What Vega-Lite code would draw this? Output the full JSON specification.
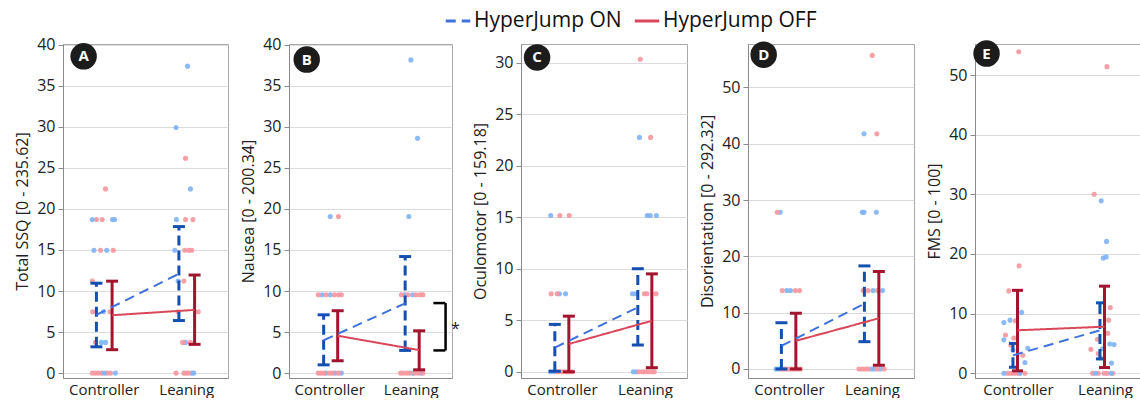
{
"$schema":"https://vega.github.io/schema/vega-lite/v6.json",
"background":"white",
"padding":{"left":14,"top":7,"right":0,"bottom":0},
"spacing":11,
"resolve":{"scale":{"y":"independent"}},
"datasets":{
"pts":[
{"p":"A","c":"Controller","g":"OFF","v":22.44,"j":0.03},{"p":"A","c":"Controller","g":"OFF","v":18.7,"j":-0.19},{"p":"A","c":"Controller","g":"OFF","v":18.7,"j":-0.05},{"p":"A","c":"Controller","g":"OFF","v":14.96,"j":-0.09},{"p":"A","c":"Controller","g":"OFF","v":14.96,"j":0.22},{"p":"A","c":"Controller","g":"OFF","v":11.22,"j":-0.29},{"p":"A","c":"Controller","g":"OFF","v":7.48,"j":-0.28},{"p":"A","c":"Controller","g":"OFF","v":7.48,"j":0.14},{"p":"A","c":"Controller","g":"OFF","v":3.74,"j":-0.21},{"p":"A","c":"Controller","g":"OFF","v":0,"j":-0.29},{"p":"A","c":"Controller","g":"OFF","v":0,"j":-0.22},{"p":"A","c":"Controller","g":"OFF","v":0,"j":-0.15},{"p":"A","c":"Controller","g":"OFF","v":0,"j":-0.07},{"p":"A","c":"Controller","g":"OFF","v":0,"j":0.07},{"p":"A","c":"Controller","g":"OFF","v":0,"j":0.15},
{"p":"A","c":"Controller","g":"ON","v":18.7,"j":-0.29},{"p":"A","c":"Controller","g":"ON","v":18.7,"j":0.2},{"p":"A","c":"Controller","g":"ON","v":18.7,"j":0.25},{"p":"A","c":"Controller","g":"ON","v":14.96,"j":-0.25},{"p":"A","c":"Controller","g":"ON","v":14.96,"j":0.06},{"p":"A","c":"Controller","g":"ON","v":7.48,"j":-0.02},{"p":"A","c":"Controller","g":"ON","v":3.74,"j":-0.07},{"p":"A","c":"Controller","g":"ON","v":3.74,"j":0.03},{"p":"A","c":"Controller","g":"ON","v":0,"j":0},{"p":"A","c":"Controller","g":"ON","v":0,"j":0.27},
{"p":"A","c":"Leaning","g":"ON","v":37.4,"j":0.02},{"p":"A","c":"Leaning","g":"ON","v":29.92,"j":-0.26},{"p":"A","c":"Leaning","g":"ON","v":22.44,"j":0.09},{"p":"A","c":"Leaning","g":"ON","v":18.7,"j":-0.25},{"p":"A","c":"Leaning","g":"ON","v":14.96,"j":-0.29},{"p":"A","c":"Leaning","g":"ON","v":11.22,"j":-0.21},{"p":"A","c":"Leaning","g":"ON","v":3.74,"j":-0.03},{"p":"A","c":"Leaning","g":"ON","v":0,"j":0.12},{"p":"A","c":"Leaning","g":"ON","v":0,"j":0.17},
{"p":"A","c":"Leaning","g":"OFF","v":26.18,"j":-0.03},{"p":"A","c":"Leaning","g":"OFF","v":18.7,"j":-0.03},{"p":"A","c":"Leaning","g":"OFF","v":18.7,"j":0.15},{"p":"A","c":"Leaning","g":"OFF","v":14.96,"j":-0.05},{"p":"A","c":"Leaning","g":"OFF","v":14.96,"j":0.05},{"p":"A","c":"Leaning","g":"OFF","v":14.96,"j":0.12},{"p":"A","c":"Leaning","g":"OFF","v":11.22,"j":-0.07},{"p":"A","c":"Leaning","g":"OFF","v":7.48,"j":-0.21},{"p":"A","c":"Leaning","g":"OFF","v":7.48,"j":0.28},{"p":"A","c":"Leaning","g":"OFF","v":3.74,"j":-0.1},{"p":"A","c":"Leaning","g":"OFF","v":3.74,"j":0.09},{"p":"A","c":"Leaning","g":"OFF","v":0,"j":-0.26},{"p":"A","c":"Leaning","g":"OFF","v":0,"j":-0.07},{"p":"A","c":"Leaning","g":"OFF","v":0,"j":-0.02},{"p":"A","c":"Leaning","g":"OFF","v":0,"j":0.04},
{"p":"B","c":"Controller","g":"ON","v":19.08,"j":0},{"p":"B","c":"Controller","g":"ON","v":9.54,"j":-0.2},{"p":"B","c":"Controller","g":"ON","v":9.54,"j":0},{"p":"B","c":"Controller","g":"ON","v":0,"j":-0.1},{"p":"B","c":"Controller","g":"ON","v":0,"j":0.12},{"p":"B","c":"Controller","g":"ON","v":0,"j":0.27},
{"p":"B","c":"Controller","g":"OFF","v":19.08,"j":0.2},{"p":"B","c":"Controller","g":"OFF","v":9.54,"j":-0.29},{"p":"B","c":"Controller","g":"OFF","v":9.54,"j":-0.1},{"p":"B","c":"Controller","g":"OFF","v":9.54,"j":0.1},{"p":"B","c":"Controller","g":"OFF","v":9.54,"j":0.2},{"p":"B","c":"Controller","g":"OFF","v":9.54,"j":0.27},{"p":"B","c":"Controller","g":"OFF","v":0,"j":-0.29},{"p":"B","c":"Controller","g":"OFF","v":0,"j":-0.22},{"p":"B","c":"Controller","g":"OFF","v":0,"j":-0.15},{"p":"B","c":"Controller","g":"OFF","v":0,"j":-0.02},{"p":"B","c":"Controller","g":"OFF","v":0,"j":0.05},{"p":"B","c":"Controller","g":"OFF","v":0,"j":0.2},
{"p":"B","c":"Leaning","g":"ON","v":38.16,"j":-0.02},{"p":"B","c":"Leaning","g":"ON","v":28.62,"j":0.14},{"p":"B","c":"Leaning","g":"ON","v":19.08,"j":-0.07},{"p":"B","c":"Leaning","g":"ON","v":9.54,"j":-0.17},{"p":"B","c":"Leaning","g":"ON","v":9.54,"j":0.02},{"p":"B","c":"Leaning","g":"ON","v":0,"j":0.02},{"p":"B","c":"Leaning","g":"ON","v":0,"j":0.22},
{"p":"B","c":"Leaning","g":"OFF","v":9.54,"j":-0.25},{"p":"B","c":"Leaning","g":"OFF","v":9.54,"j":-0.09},{"p":"B","c":"Leaning","g":"OFF","v":9.54,"j":0.1},{"p":"B","c":"Leaning","g":"OFF","v":9.54,"j":0.2},{"p":"B","c":"Leaning","g":"OFF","v":9.54,"j":0.27},{"p":"B","c":"Leaning","g":"OFF","v":0,"j":-0.27},{"p":"B","c":"Leaning","g":"OFF","v":0,"j":-0.2},{"p":"B","c":"Leaning","g":"OFF","v":0,"j":-0.12},{"p":"B","c":"Leaning","g":"OFF","v":0,"j":-0.05},{"p":"B","c":"Leaning","g":"OFF","v":0,"j":0.07},{"p":"B","c":"Leaning","g":"OFF","v":0,"j":0.15},{"p":"B","c":"Leaning","g":"OFF","v":0,"j":0.27},
{"p":"C","c":"Controller","g":"ON","v":15.16,"j":-0.28},{"p":"C","c":"Controller","g":"ON","v":7.58,"j":-0.07},{"p":"C","c":"Controller","g":"ON","v":7.58,"j":0.08},{"p":"C","c":"Controller","g":"ON","v":0,"j":-0.29},{"p":"C","c":"Controller","g":"ON","v":0,"j":-0.2},
{"p":"C","c":"Controller","g":"OFF","v":15.16,"j":-0.06},{"p":"C","c":"Controller","g":"OFF","v":15.16,"j":0.17},{"p":"C","c":"Controller","g":"OFF","v":7.58,"j":-0.27},{"p":"C","c":"Controller","g":"OFF","v":7.58,"j":-0.12},{"p":"C","c":"Controller","g":"OFF","v":0,"j":-0.12},{"p":"C","c":"Controller","g":"OFF","v":0,"j":-0.05},{"p":"C","c":"Controller","g":"OFF","v":0,"j":0.02},{"p":"C","c":"Controller","g":"OFF","v":0,"j":0.1},{"p":"C","c":"Controller","g":"OFF","v":0,"j":0.17},{"p":"C","c":"Controller","g":"OFF","v":0,"j":0.24},
{"p":"C","c":"Leaning","g":"ON","v":22.74,"j":-0.14},{"p":"C","c":"Leaning","g":"ON","v":15.16,"j":0.05},{"p":"C","c":"Leaning","g":"ON","v":15.16,"j":0.12},{"p":"C","c":"Leaning","g":"ON","v":15.16,"j":0.27},{"p":"C","c":"Leaning","g":"ON","v":7.58,"j":-0.31},{"p":"C","c":"Leaning","g":"ON","v":7.58,"j":-0.23},{"p":"C","c":"Leaning","g":"ON","v":0,"j":-0.29},{"p":"C","c":"Leaning","g":"ON","v":0,"j":-0.22},
{"p":"C","c":"Leaning","g":"OFF","v":30.32,"j":-0.12},{"p":"C","c":"Leaning","g":"OFF","v":22.74,"j":0.13},{"p":"C","c":"Leaning","g":"OFF","v":7.58,"j":-0.02},{"p":"C","c":"Leaning","g":"OFF","v":7.58,"j":0.04},{"p":"C","c":"Leaning","g":"OFF","v":7.58,"j":0.26},{"p":"C","c":"Leaning","g":"OFF","v":0,"j":-0.15},{"p":"C","c":"Leaning","g":"OFF","v":0,"j":-0.07},{"p":"C","c":"Leaning","g":"OFF","v":0,"j":0},{"p":"C","c":"Leaning","g":"OFF","v":0,"j":0.07},{"p":"C","c":"Leaning","g":"OFF","v":0,"j":0.15},{"p":"C","c":"Leaning","g":"OFF","v":0,"j":0.22},
{"p":"D","c":"Controller","g":"ON","v":27.84,"j":-0.22},{"p":"D","c":"Controller","g":"ON","v":13.92,"j":-0.06},{"p":"D","c":"Controller","g":"ON","v":13.92,"j":0.03},{"p":"D","c":"Controller","g":"ON","v":0,"j":-0.32},{"p":"D","c":"Controller","g":"ON","v":0,"j":-0.24},
{"p":"D","c":"Controller","g":"OFF","v":27.84,"j":-0.29},{"p":"D","c":"Controller","g":"OFF","v":13.92,"j":-0.17},{"p":"D","c":"Controller","g":"OFF","v":13.92,"j":0.15},{"p":"D","c":"Controller","g":"OFF","v":13.92,"j":0.25},{"p":"D","c":"Controller","g":"OFF","v":0,"j":-0.17},{"p":"D","c":"Controller","g":"OFF","v":0,"j":-0.1},{"p":"D","c":"Controller","g":"OFF","v":0,"j":-0.02},{"p":"D","c":"Controller","g":"OFF","v":0,"j":0.05},{"p":"D","c":"Controller","g":"OFF","v":0,"j":0.12},{"p":"D","c":"Controller","g":"OFF","v":0,"j":0.2},{"p":"D","c":"Controller","g":"OFF","v":0,"j":0.27},
{"p":"D","c":"Leaning","g":"ON","v":41.76,"j":-0.2},{"p":"D","c":"Leaning","g":"ON","v":27.84,"j":-0.24},{"p":"D","c":"Leaning","g":"ON","v":27.84,"j":-0.2},{"p":"D","c":"Leaning","g":"ON","v":27.84,"j":0.1},{"p":"D","c":"Leaning","g":"ON","v":13.92,"j":0.02},{"p":"D","c":"Leaning","g":"ON","v":13.92,"j":0.25},{"p":"D","c":"Leaning","g":"ON","v":0,"j":-0.02},{"p":"D","c":"Leaning","g":"ON","v":0,"j":0.05},{"p":"D","c":"Leaning","g":"ON","v":0,"j":0.2},
{"p":"D","c":"Leaning","g":"OFF","v":55.68,"j":0},{"p":"D","c":"Leaning","g":"OFF","v":41.76,"j":0.11},{"p":"D","c":"Leaning","g":"OFF","v":13.92,"j":-0.22},{"p":"D","c":"Leaning","g":"OFF","v":13.92,"j":-0.1},{"p":"D","c":"Leaning","g":"OFF","v":13.92,"j":0.13},{"p":"D","c":"Leaning","g":"OFF","v":0,"j":-0.32},{"p":"D","c":"Leaning","g":"OFF","v":0,"j":-0.24},{"p":"D","c":"Leaning","g":"OFF","v":0,"j":-0.17},{"p":"D","c":"Leaning","g":"OFF","v":0,"j":-0.1},{"p":"D","c":"Leaning","g":"OFF","v":0,"j":0.12},{"p":"D","c":"Leaning","g":"OFF","v":0,"j":0.29},
{"p":"E","c":"Controller","g":"OFF","v":53.9,"j":0.06},{"p":"E","c":"Controller","g":"OFF","v":18.0,"j":0.07},{"p":"E","c":"Controller","g":"OFF","v":13.8,"j":-0.18},{"p":"E","c":"Controller","g":"OFF","v":8.8,"j":-0.02},{"p":"E","c":"Controller","g":"OFF","v":6.4,"j":-0.26},{"p":"E","c":"Controller","g":"OFF","v":5.9,"j":-0.06},{"p":"E","c":"Controller","g":"OFF","v":4.7,"j":-0.13},{"p":"E","c":"Controller","g":"OFF","v":3.0,"j":0.16},{"p":"E","c":"Controller","g":"OFF","v":0,"j":-0.21},{"p":"E","c":"Controller","g":"OFF","v":0,"j":-0.14},{"p":"E","c":"Controller","g":"OFF","v":0,"j":-0.07},{"p":"E","c":"Controller","g":"OFF","v":0,"j":0},{"p":"E","c":"Controller","g":"OFF","v":0,"j":0.07},{"p":"E","c":"Controller","g":"OFF","v":0,"j":0.21},
{"p":"E","c":"Controller","g":"ON","v":10.2,"j":0.13},{"p":"E","c":"Controller","g":"ON","v":8.9,"j":-0.15},{"p":"E","c":"Controller","g":"ON","v":8.5,"j":-0.3},{"p":"E","c":"Controller","g":"ON","v":5.6,"j":-0.3},{"p":"E","c":"Controller","g":"ON","v":3.9,"j":-0.08},{"p":"E","c":"Controller","g":"ON","v":4.2,"j":0.28},{"p":"E","c":"Controller","g":"ON","v":1.8,"j":0.21},{"p":"E","c":"Controller","g":"ON","v":0,"j":-0.3},{"p":"E","c":"Controller","g":"ON","v":0,"j":0.09},
{"p":"E","c":"Leaning","g":"OFF","v":51.4,"j":0.09},{"p":"E","c":"Leaning","g":"OFF","v":30.0,"j":-0.22},{"p":"E","c":"Leaning","g":"OFF","v":11.0,"j":0.17},{"p":"E","c":"Leaning","g":"OFF","v":8.9,"j":0.13},{"p":"E","c":"Leaning","g":"OFF","v":6.7,"j":0.11},{"p":"E","c":"Leaning","g":"OFF","v":5.7,"j":-0.14},{"p":"E","c":"Leaning","g":"OFF","v":4.0,"j":-0.3},{"p":"E","c":"Leaning","g":"OFF","v":3.3,"j":-0.12},{"p":"E","c":"Leaning","g":"OFF","v":2.6,"j":-0.07},{"p":"E","c":"Leaning","g":"OFF","v":0,"j":-0.26},{"p":"E","c":"Leaning","g":"OFF","v":0,"j":-0.12},{"p":"E","c":"Leaning","g":"OFF","v":0,"j":0.02},{"p":"E","c":"Leaning","g":"OFF","v":0,"j":0.09},{"p":"E","c":"Leaning","g":"OFF","v":0,"j":0.23},
{"p":"E","c":"Leaning","g":"ON","v":28.9,"j":-0.05},{"p":"E","c":"Leaning","g":"ON","v":22.1,"j":0.08},{"p":"E","c":"Leaning","g":"ON","v":19.3,"j":0},{"p":"E","c":"Leaning","g":"ON","v":19.5,"j":0.07},{"p":"E","c":"Leaning","g":"ON","v":4.9,"j":0.16},{"p":"E","c":"Leaning","g":"ON","v":4.8,"j":0.26},{"p":"E","c":"Leaning","g":"ON","v":4.1,"j":-0.02},{"p":"E","c":"Leaning","g":"ON","v":1.7,"j":0.2},{"p":"E","c":"Leaning","g":"ON","v":0,"j":-0.19},{"p":"E","c":"Leaning","g":"ON","v":0,"j":0.19}
],
"sum":[
{"p":"A","c":"Controller","g":"HyperJump ON","m":7.1,"lo":3.2,"hi":10.95},{"p":"A","c":"Controller","g":"HyperJump OFF","m":7.05,"lo":2.85,"hi":11.2},{"p":"A","c":"Leaning","g":"HyperJump ON","m":12.1,"lo":6.4,"hi":17.85},{"p":"A","c":"Leaning","g":"HyperJump OFF","m":7.7,"lo":3.5,"hi":11.95},
{"p":"B","c":"Controller","g":"HyperJump ON","m":4.0,"lo":1.0,"hi":7.1},{"p":"B","c":"Controller","g":"HyperJump OFF","m":4.55,"lo":1.5,"hi":7.6},{"p":"B","c":"Leaning","g":"HyperJump ON","m":8.5,"lo":2.76,"hi":14.2},{"p":"B","c":"Leaning","g":"HyperJump OFF","m":2.8,"lo":0.4,"hi":5.15},
{"p":"C","c":"Controller","g":"HyperJump ON","m":2.35,"lo":0.05,"hi":4.6},{"p":"C","c":"Controller","g":"HyperJump OFF","m":2.7,"lo":0,"hi":5.4},{"p":"C","c":"Leaning","g":"HyperJump ON","m":6.25,"lo":2.6,"hi":10.0},{"p":"C","c":"Leaning","g":"HyperJump OFF","m":4.95,"lo":0.4,"hi":9.5},
{"p":"D","c":"Controller","g":"HyperJump ON","m":4.1,"lo":0,"hi":8.2},{"p":"D","c":"Controller","g":"HyperJump OFF","m":5.0,"lo":0,"hi":9.9},{"p":"D","c":"Leaning","g":"HyperJump ON","m":11.6,"lo":4.85,"hi":18.3},{"p":"D","c":"Leaning","g":"HyperJump OFF","m":9.0,"lo":0.65,"hi":17.3},
{"p":"E","c":"Controller","g":"HyperJump ON","m":3.0,"lo":1.0,"hi":5.0},{"p":"E","c":"Controller","g":"HyperJump OFF","m":7.2,"lo":0.4,"hi":13.9},{"p":"E","c":"Leaning","g":"HyperJump ON","m":7.2,"lo":2.4,"hi":11.8},{"p":"E","c":"Leaning","g":"HyperJump OFF","m":7.8,"lo":0.95,"hi":14.6}
]
},
"hconcat":[
{"width":165,"height":334,"layer":[
{"data":{"name":"pts"},"transform":[{"filter":"datum.p=='A'"}],"mark":{"type":"circle","size":26,"opacity":0.9},"encoding":{"x":{"field":"c","type":"nominal","scale":{"type":"band","domain":["Controller","Leaning"],"paddingInner":0,"paddingOuter":0},"axis":{"title":null}},"xOffset":{"field":"j","type":"quantitative","scale":{"domain":[-1,1]}},"y":{"field":"v","type":"quantitative","scale":{"domain":[-0.6,40.1],"nice":false,"zero":false},"axis":{"title":"Total SSQ [0 - 235.62]","values":[0,5,10,15,20,25,30,35,40]}},"fill":{"condition":{"test":"datum.g=='ON'","value":"#80b3f6"},"value":"#f6969f"}}},
{"data":{"name":"sum"},"transform":[{"filter":"datum.p=='A' && datum.g=='HyperJump ON'"}],"mark":{"type":"rule","color":"#1550b0","strokeWidth":3,"strokeDash":[10,5]},"encoding":{"x":{"field":"c","type":"nominal"},"xOffset":{"datum":-0.19,"type":"quantitative","scale":{"domain":[-1,1]}},"y":{"field":"lo","type":"quantitative","scale":{"domain":[-0.6,40.1],"nice":false,"zero":false}},"y2":{"field":"hi"}}},
{"data":{"name":"sum"},"transform":[{"filter":"datum.p=='A' && datum.g=='HyperJump ON'"},{"fold":["lo","hi"],"as":["k","yv"]}],"mark":{"type":"tick","color":"#1550b0","thickness":3,"size":12,"orient":"horizontal","opacity":1},"encoding":{"x":{"field":"c","type":"nominal"},"xOffset":{"datum":-0.19,"type":"quantitative","scale":{"domain":[-1,1]}},"y":{"field":"yv","type":"quantitative","scale":{"domain":[-0.6,40.1],"nice":false,"zero":false}}}},
{"data":{"name":"sum"},"transform":[{"filter":"datum.p=='A' && datum.g=='HyperJump OFF'"}],"mark":{"type":"rule","color":"#a3152f","strokeWidth":3},"encoding":{"x":{"field":"c","type":"nominal"},"xOffset":{"datum":0.19,"type":"quantitative","scale":{"domain":[-1,1]}},"y":{"field":"lo","type":"quantitative","scale":{"domain":[-0.6,40.1],"nice":false,"zero":false}},"y2":{"field":"hi"}}},
{"data":{"name":"sum"},"transform":[{"filter":"datum.p=='A' && datum.g=='HyperJump OFF'"},{"fold":["lo","hi"],"as":["k","yv"]}],"mark":{"type":"tick","color":"#a3152f","thickness":3,"size":12,"orient":"horizontal","opacity":1},"encoding":{"x":{"field":"c","type":"nominal"},"xOffset":{"datum":0.19,"type":"quantitative","scale":{"domain":[-1,1]}},"y":{"field":"yv","type":"quantitative","scale":{"domain":[-0.6,40.1],"nice":false,"zero":false}}}},
{"data":{"name":"sum"},"transform":[{"filter":"datum.p=='A' && datum.g=='HyperJump ON'"}],"mark":{"type":"line","strokeWidth":2},"encoding":{"x":{"field":"c","type":"nominal"},"xOffset":{"datum":-0.19,"type":"quantitative","scale":{"domain":[-1,1]}},"y":{"field":"m","type":"quantitative","scale":{"domain":[-0.6,40.1],"nice":false,"zero":false}},"stroke":{"field":"g","type":"nominal","title":null,"scale":{"domain":["HyperJump ON","HyperJump OFF"],"range":["#3f72dc","#d9475b"]}},"strokeDash":{"field":"g","type":"nominal","title":null,"scale":{"domain":["HyperJump ON","HyperJump OFF"],"range":[[10,6],[1,0]]}}}},
{"data":{"name":"sum"},"transform":[{"filter":"datum.p=='A' && datum.g=='HyperJump OFF'"}],"mark":{"type":"line","strokeWidth":2},"encoding":{"x":{"field":"c","type":"nominal"},"xOffset":{"datum":0.19,"type":"quantitative","scale":{"domain":[-1,1]}},"y":{"field":"m","type":"quantitative","scale":{"domain":[-0.6,40.1],"nice":false,"zero":false}},"stroke":{"field":"g","type":"nominal","title":null,"scale":{"domain":["HyperJump ON","HyperJump OFF"],"range":["#3f72dc","#d9475b"]}},"strokeDash":{"field":"g","type":"nominal","title":null,"scale":{"domain":["HyperJump ON","HyperJump OFF"],"range":[[10,6],[1,0]]}}}},
{"data":{"values":[{"t":"A"}]},"mark":{"type":"circle","size":700,"color":"#1c1c1c","opacity":1},"encoding":{"x":{"datum":"Controller","type":"nominal"},"xOffset":{"datum":-0.5,"type":"quantitative","scale":{"domain":[-1,1]}},"y":{"datum":38.6,"type":"quantitative","scale":{"domain":[-0.6,40.1],"nice":false,"zero":false}}}},
{"data":{"values":[{"t":"A"}]},"mark":{"type":"text","color":"white","fontWeight":"bold","fontSize":15,"baseline":"middle","align":"center"},"encoding":{"x":{"datum":"Controller","type":"nominal"},"xOffset":{"datum":-0.5,"type":"quantitative","scale":{"domain":[-1,1]}},"y":{"datum":38.6,"type":"quantitative","scale":{"domain":[-0.6,40.1],"nice":false,"zero":false}},"text":{"field":"t"}}}
]},
{"width":163,"height":334,"layer":[
{"data":{"name":"pts"},"transform":[{"filter":"datum.p=='B'"}],"mark":{"type":"circle","size":26,"opacity":0.9},"encoding":{"x":{"field":"c","type":"nominal","scale":{"type":"band","domain":["Controller","Leaning"],"paddingInner":0,"paddingOuter":0},"axis":{"title":null}},"xOffset":{"field":"j","type":"quantitative","scale":{"domain":[-1,1]}},"y":{"field":"v","type":"quantitative","scale":{"domain":[-0.6,40.1],"nice":false,"zero":false},"axis":{"title":"Nausea [0 - 200.34]","values":[0,5,10,15,20,25,30,35,40]}},"fill":{"condition":{"test":"datum.g=='ON'","value":"#80b3f6"},"value":"#f6969f"}}},
{"data":{"name":"sum"},"transform":[{"filter":"datum.p=='B' && datum.g=='HyperJump ON'"}],"mark":{"type":"rule","color":"#1550b0","strokeWidth":3,"strokeDash":[10,5]},"encoding":{"x":{"field":"c","type":"nominal"},"xOffset":{"datum":-0.16,"type":"quantitative","scale":{"domain":[-1,1]}},"y":{"field":"lo","type":"quantitative","scale":{"domain":[-0.6,40.1],"nice":false,"zero":false}},"y2":{"field":"hi"}}},
{"data":{"name":"sum"},"transform":[{"filter":"datum.p=='B' && datum.g=='HyperJump ON'"},{"fold":["lo","hi"],"as":["k","yv"]}],"mark":{"type":"tick","color":"#1550b0","thickness":3,"size":12,"orient":"horizontal","opacity":1},"encoding":{"x":{"field":"c","type":"nominal"},"xOffset":{"datum":-0.16,"type":"quantitative","scale":{"domain":[-1,1]}},"y":{"field":"yv","type":"quantitative","scale":{"domain":[-0.6,40.1],"nice":false,"zero":false}}}},
{"data":{"name":"sum"},"transform":[{"filter":"datum.p=='B' && datum.g=='HyperJump OFF'"}],"mark":{"type":"rule","color":"#a3152f","strokeWidth":3},"encoding":{"x":{"field":"c","type":"nominal"},"xOffset":{"datum":0.18,"type":"quantitative","scale":{"domain":[-1,1]}},"y":{"field":"lo","type":"quantitative","scale":{"domain":[-0.6,40.1],"nice":false,"zero":false}},"y2":{"field":"hi"}}},
{"data":{"name":"sum"},"transform":[{"filter":"datum.p=='B' && datum.g=='HyperJump OFF'"},{"fold":["lo","hi"],"as":["k","yv"]}],"mark":{"type":"tick","color":"#a3152f","thickness":3,"size":12,"orient":"horizontal","opacity":1},"encoding":{"x":{"field":"c","type":"nominal"},"xOffset":{"datum":0.18,"type":"quantitative","scale":{"domain":[-1,1]}},"y":{"field":"yv","type":"quantitative","scale":{"domain":[-0.6,40.1],"nice":false,"zero":false}}}},
{"data":{"name":"sum"},"transform":[{"filter":"datum.p=='B' && datum.g=='HyperJump ON'"}],"mark":{"type":"line","strokeWidth":2},"encoding":{"x":{"field":"c","type":"nominal"},"xOffset":{"datum":-0.16,"type":"quantitative","scale":{"domain":[-1,1]}},"y":{"field":"m","type":"quantitative","scale":{"domain":[-0.6,40.1],"nice":false,"zero":false}},"stroke":{"field":"g","type":"nominal","title":null,"scale":{"domain":["HyperJump ON","HyperJump OFF"],"range":["#3f72dc","#d9475b"]}},"strokeDash":{"field":"g","type":"nominal","title":null,"scale":{"domain":["HyperJump ON","HyperJump OFF"],"range":[[10,6],[1,0]]}}}},
{"data":{"name":"sum"},"transform":[{"filter":"datum.p=='B' && datum.g=='HyperJump OFF'"}],"mark":{"type":"line","strokeWidth":2},"encoding":{"x":{"field":"c","type":"nominal"},"xOffset":{"datum":0.18,"type":"quantitative","scale":{"domain":[-1,1]}},"y":{"field":"m","type":"quantitative","scale":{"domain":[-0.6,40.1],"nice":false,"zero":false}},"stroke":{"field":"g","type":"nominal","title":null,"scale":{"domain":["HyperJump ON","HyperJump OFF"],"range":["#3f72dc","#d9475b"]}},"strokeDash":{"field":"g","type":"nominal","title":null,"scale":{"domain":["HyperJump ON","HyperJump OFF"],"range":[[10,6],[1,0]]}}}},
{"data":{"values":[{"t":"B"}]},"mark":{"type":"circle","size":700,"color":"#1c1c1c","opacity":1},"encoding":{"x":{"datum":"Controller","type":"nominal"},"xOffset":{"datum":-0.57,"type":"quantitative","scale":{"domain":[-1,1]}},"y":{"datum":38.2,"type":"quantitative","scale":{"domain":[-0.6,40.1],"nice":false,"zero":false}}}},
{"data":{"values":[{"t":"B"}]},"mark":{"type":"text","color":"white","fontWeight":"bold","fontSize":15,"baseline":"middle","align":"center"},"encoding":{"x":{"datum":"Controller","type":"nominal"},"xOffset":{"datum":-0.57,"type":"quantitative","scale":{"domain":[-1,1]}},"y":{"datum":38.2,"type":"quantitative","scale":{"domain":[-0.6,40.1],"nice":false,"zero":false}},"text":{"field":"t"}}},
{"data":{"values":[{"s":"*"}]},"mark":{"type":"rule","color":"black","strokeWidth":2.5},"encoding":{"x":{"datum":"Leaning","type":"nominal"},"xOffset":{"datum":0.82,"type":"quantitative","scale":{"domain":[-1,1]}},"y":{"datum":2.76,"type":"quantitative","scale":{"domain":[-0.6,40.1],"nice":false,"zero":false}},"y2":{"datum":8.53}}},
{"data":{"values":[{"s":"*","yv":2.76},{"s":"*","yv":8.53}]},"mark":{"type":"tick","color":"black","thickness":2.5,"size":12,"orient":"horizontal","opacity":1},"encoding":{"x":{"datum":"Leaning","type":"nominal"},"xOffset":{"datum":0.67,"type":"quantitative","scale":{"domain":[-1,1]}},"y":{"field":"yv","type":"quantitative","scale":{"domain":[-0.6,40.1],"nice":false,"zero":false}}}},
{"data":{"values":[{"s":"*"}]},"mark":{"type":"text","color":"#222","fontSize":16,"baseline":"middle","align":"center"},"encoding":{"x":{"datum":"Leaning","type":"nominal"},"xOffset":{"datum":1.06,"type":"quantitative","scale":{"domain":[-1,1]}},"y":{"datum":5.4,"type":"quantitative","scale":{"domain":[-0.6,40.1],"nice":false,"zero":false}},"text":{"field":"s"}}}
]},
{"width":166,"height":334,"layer":[
{"data":{"name":"pts"},"transform":[{"filter":"datum.p=='C'"}],"mark":{"type":"circle","size":26,"opacity":0.9},"encoding":{"x":{"field":"c","type":"nominal","scale":{"type":"band","domain":["Controller","Leaning"],"paddingInner":0,"paddingOuter":0},"axis":{"title":null}},"xOffset":{"field":"j","type":"quantitative","scale":{"domain":[-1,1]}},"y":{"field":"v","type":"quantitative","scale":{"domain":[-0.6,31.8],"nice":false,"zero":false},"axis":{"title":"Oculomotor [0 - 159.18]","values":[0,5,10,15,20,25,30]}},"fill":{"condition":{"test":"datum.g=='ON'","value":"#80b3f6"},"value":"#f6969f"}}},
{"data":{"name":"sum"},"transform":[{"filter":"datum.p=='C' && datum.g=='HyperJump ON'"}],"mark":{"type":"rule","color":"#1550b0","strokeWidth":3,"strokeDash":[10,5]},"encoding":{"x":{"field":"c","type":"nominal"},"xOffset":{"datum":-0.18,"type":"quantitative","scale":{"domain":[-1,1]}},"y":{"field":"lo","type":"quantitative","scale":{"domain":[-0.6,31.8],"nice":false,"zero":false}},"y2":{"field":"hi"}}},
{"data":{"name":"sum"},"transform":[{"filter":"datum.p=='C' && datum.g=='HyperJump ON'"},{"fold":["lo","hi"],"as":["k","yv"]}],"mark":{"type":"tick","color":"#1550b0","thickness":3,"size":12,"orient":"horizontal","opacity":1},"encoding":{"x":{"field":"c","type":"nominal"},"xOffset":{"datum":-0.18,"type":"quantitative","scale":{"domain":[-1,1]}},"y":{"field":"yv","type":"quantitative","scale":{"domain":[-0.6,31.8],"nice":false,"zero":false}}}},
{"data":{"name":"sum"},"transform":[{"filter":"datum.p=='C' && datum.g=='HyperJump OFF'"}],"mark":{"type":"rule","color":"#a3152f","strokeWidth":3},"encoding":{"x":{"field":"c","type":"nominal"},"xOffset":{"datum":0.16,"type":"quantitative","scale":{"domain":[-1,1]}},"y":{"field":"lo","type":"quantitative","scale":{"domain":[-0.6,31.8],"nice":false,"zero":false}},"y2":{"field":"hi"}}},
{"data":{"name":"sum"},"transform":[{"filter":"datum.p=='C' && datum.g=='HyperJump OFF'"},{"fold":["lo","hi"],"as":["k","yv"]}],"mark":{"type":"tick","color":"#a3152f","thickness":3,"size":12,"orient":"horizontal","opacity":1},"encoding":{"x":{"field":"c","type":"nominal"},"xOffset":{"datum":0.16,"type":"quantitative","scale":{"domain":[-1,1]}},"y":{"field":"yv","type":"quantitative","scale":{"domain":[-0.6,31.8],"nice":false,"zero":false}}}},
{"data":{"name":"sum"},"transform":[{"filter":"datum.p=='C' && datum.g=='HyperJump ON'"}],"mark":{"type":"line","strokeWidth":2},"encoding":{"x":{"field":"c","type":"nominal"},"xOffset":{"datum":-0.18,"type":"quantitative","scale":{"domain":[-1,1]}},"y":{"field":"m","type":"quantitative","scale":{"domain":[-0.6,31.8],"nice":false,"zero":false}},"stroke":{"field":"g","type":"nominal","title":null,"scale":{"domain":["HyperJump ON","HyperJump OFF"],"range":["#3f72dc","#d9475b"]}},"strokeDash":{"field":"g","type":"nominal","title":null,"scale":{"domain":["HyperJump ON","HyperJump OFF"],"range":[[10,6],[1,0]]}}}},
{"data":{"name":"sum"},"transform":[{"filter":"datum.p=='C' && datum.g=='HyperJump OFF'"}],"mark":{"type":"line","strokeWidth":2},"encoding":{"x":{"field":"c","type":"nominal"},"xOffset":{"datum":0.16,"type":"quantitative","scale":{"domain":[-1,1]}},"y":{"field":"m","type":"quantitative","scale":{"domain":[-0.6,31.8],"nice":false,"zero":false}},"stroke":{"field":"g","type":"nominal","title":null,"scale":{"domain":["HyperJump ON","HyperJump OFF"],"range":["#3f72dc","#d9475b"]}},"strokeDash":{"field":"g","type":"nominal","title":null,"scale":{"domain":["HyperJump ON","HyperJump OFF"],"range":[[10,6],[1,0]]}}}},
{"data":{"values":[{"t":"C"}]},"mark":{"type":"circle","size":700,"color":"#1c1c1c","opacity":1},"encoding":{"x":{"datum":"Controller","type":"nominal"},"xOffset":{"datum":-0.61,"type":"quantitative","scale":{"domain":[-1,1]}},"y":{"datum":30.5,"type":"quantitative","scale":{"domain":[-0.6,31.8],"nice":false,"zero":false}}}},
{"data":{"values":[{"t":"C"}]},"mark":{"type":"text","color":"white","fontWeight":"bold","fontSize":15,"baseline":"middle","align":"center"},"encoding":{"x":{"datum":"Controller","type":"nominal"},"xOffset":{"datum":-0.61,"type":"quantitative","scale":{"domain":[-1,1]}},"y":{"datum":30.5,"type":"quantitative","scale":{"domain":[-0.6,31.8],"nice":false,"zero":false}},"text":{"field":"t"}}}
]},
{"width":166,"height":334,"layer":[
{"data":{"name":"pts"},"transform":[{"filter":"datum.p=='D'"}],"mark":{"type":"circle","size":26,"opacity":0.9},"encoding":{"x":{"field":"c","type":"nominal","scale":{"type":"band","domain":["Controller","Leaning"],"paddingInner":0,"paddingOuter":0},"axis":{"title":null}},"xOffset":{"field":"j","type":"quantitative","scale":{"domain":[-1,1]}},"y":{"field":"v","type":"quantitative","scale":{"domain":[-1.6,57.7],"nice":false,"zero":false},"axis":{"title":"Disorientation [0 - 292.32]","values":[0,5,10,15,20,25,30,35,40,45,50,55],"labelExpr":"datum.value % 10 == 0 ? datum.label : ''","tickSize":{"condition":{"test":"datum.value % 10 == 0","value":5},"value":3},"gridColor":{"condition":{"test":"datum.value % 10 == 0","value":"#d9d9d9"},"value":"#ececec"}}},"fill":{"condition":{"test":"datum.g=='ON'","value":"#80b3f6"},"value":"#f6969f"}}},
{"data":{"name":"sum"},"transform":[{"filter":"datum.p=='D' && datum.g=='HyperJump ON'"}],"mark":{"type":"rule","color":"#1550b0","strokeWidth":3,"strokeDash":[10,5]},"encoding":{"x":{"field":"c","type":"nominal"},"xOffset":{"datum":-0.19,"type":"quantitative","scale":{"domain":[-1,1]}},"y":{"field":"lo","type":"quantitative","scale":{"domain":[-1.6,57.7],"nice":false,"zero":false}},"y2":{"field":"hi"}}},
{"data":{"name":"sum"},"transform":[{"filter":"datum.p=='D' && datum.g=='HyperJump ON'"},{"fold":["lo","hi"],"as":["k","yv"]}],"mark":{"type":"tick","color":"#1550b0","thickness":3,"size":12,"orient":"horizontal","opacity":1},"encoding":{"x":{"field":"c","type":"nominal"},"xOffset":{"datum":-0.19,"type":"quantitative","scale":{"domain":[-1,1]}},"y":{"field":"yv","type":"quantitative","scale":{"domain":[-1.6,57.7],"nice":false,"zero":false}}}},
{"data":{"name":"sum"},"transform":[{"filter":"datum.p=='D' && datum.g=='HyperJump OFF'"}],"mark":{"type":"rule","color":"#a3152f","strokeWidth":3},"encoding":{"x":{"field":"c","type":"nominal"},"xOffset":{"datum":0.16,"type":"quantitative","scale":{"domain":[-1,1]}},"y":{"field":"lo","type":"quantitative","scale":{"domain":[-1.6,57.7],"nice":false,"zero":false}},"y2":{"field":"hi"}}},
{"data":{"name":"sum"},"transform":[{"filter":"datum.p=='D' && datum.g=='HyperJump OFF'"},{"fold":["lo","hi"],"as":["k","yv"]}],"mark":{"type":"tick","color":"#a3152f","thickness":3,"size":12,"orient":"horizontal","opacity":1},"encoding":{"x":{"field":"c","type":"nominal"},"xOffset":{"datum":0.16,"type":"quantitative","scale":{"domain":[-1,1]}},"y":{"field":"yv","type":"quantitative","scale":{"domain":[-1.6,57.7],"nice":false,"zero":false}}}},
{"data":{"name":"sum"},"transform":[{"filter":"datum.p=='D' && datum.g=='HyperJump ON'"}],"mark":{"type":"line","strokeWidth":2},"encoding":{"x":{"field":"c","type":"nominal"},"xOffset":{"datum":-0.19,"type":"quantitative","scale":{"domain":[-1,1]}},"y":{"field":"m","type":"quantitative","scale":{"domain":[-1.6,57.7],"nice":false,"zero":false}},"stroke":{"field":"g","type":"nominal","title":null,"scale":{"domain":["HyperJump ON","HyperJump OFF"],"range":["#3f72dc","#d9475b"]}},"strokeDash":{"field":"g","type":"nominal","title":null,"scale":{"domain":["HyperJump ON","HyperJump OFF"],"range":[[10,6],[1,0]]}}}},
{"data":{"name":"sum"},"transform":[{"filter":"datum.p=='D' && datum.g=='HyperJump OFF'"}],"mark":{"type":"line","strokeWidth":2},"encoding":{"x":{"field":"c","type":"nominal"},"xOffset":{"datum":0.16,"type":"quantitative","scale":{"domain":[-1,1]}},"y":{"field":"m","type":"quantitative","scale":{"domain":[-1.6,57.7],"nice":false,"zero":false}},"stroke":{"field":"g","type":"nominal","title":null,"scale":{"domain":["HyperJump ON","HyperJump OFF"],"range":["#3f72dc","#d9475b"]}},"strokeDash":{"field":"g","type":"nominal","title":null,"scale":{"domain":["HyperJump ON","HyperJump OFF"],"range":[[10,6],[1,0]]}}}},
{"data":{"values":[{"t":"D"}]},"mark":{"type":"circle","size":700,"color":"#1c1c1c","opacity":1},"encoding":{"x":{"datum":"Controller","type":"nominal"},"xOffset":{"datum":-0.62,"type":"quantitative","scale":{"domain":[-1,1]}},"y":{"datum":55.8,"type":"quantitative","scale":{"domain":[-1.6,57.7],"nice":false,"zero":false}}}},
{"data":{"values":[{"t":"D"}]},"mark":{"type":"text","color":"white","fontWeight":"bold","fontSize":15,"baseline":"middle","align":"center"},"encoding":{"x":{"datum":"Controller","type":"nominal"},"xOffset":{"datum":-0.62,"type":"quantitative","scale":{"domain":[-1,1]}},"y":{"datum":55.8,"type":"quantitative","scale":{"domain":[-1.6,57.7],"nice":false,"zero":false}},"text":{"field":"t"}}}
]},
{"width":174,"height":334,"layer":[
{"data":{"name":"pts"},"transform":[{"filter":"datum.p=='E'"}],"mark":{"type":"circle","size":26,"opacity":0.9},"encoding":{"x":{"field":"c","type":"nominal","scale":{"type":"band","domain":["Controller","Leaning"],"paddingInner":0,"paddingOuter":0},"axis":{"title":null}},"xOffset":{"field":"j","type":"quantitative","scale":{"domain":[-1,1]}},"y":{"field":"v","type":"quantitative","scale":{"domain":[-0.8,55.2],"nice":false,"zero":false},"axis":{"title":"FMS [0 - 100]","values":[0,5,10,15,20,25,30,35,40,45,50,55],"labelExpr":"datum.value % 10 == 0 ? datum.label : ''","tickSize":{"condition":{"test":"datum.value % 10 == 0","value":5},"value":3},"gridColor":{"condition":{"test":"datum.value % 10 == 0","value":"#d9d9d9"},"value":"#ececec"}}},"fill":{"condition":{"test":"datum.g=='ON'","value":"#80b3f6"},"value":"#f6969f"}}},
{"data":{"name":"sum"},"transform":[{"filter":"datum.p=='E' && datum.g=='HyperJump ON'"}],"mark":{"type":"rule","color":"#1550b0","strokeWidth":3,"strokeDash":[10,5]},"encoding":{"x":{"field":"c","type":"nominal"},"xOffset":{"datum":-0.08,"type":"quantitative","scale":{"domain":[-1,1]}},"y":{"field":"lo","type":"quantitative","scale":{"domain":[-0.8,55.2],"nice":false,"zero":false}},"y2":{"field":"hi"}}},
{"data":{"name":"sum"},"transform":[{"filter":"datum.p=='E' && datum.g=='HyperJump ON'"},{"fold":["lo","hi"],"as":["k","yv"]}],"mark":{"type":"tick","color":"#1550b0","thickness":3,"size":8,"orient":"horizontal","opacity":1},"encoding":{"x":{"field":"c","type":"nominal"},"xOffset":{"datum":-0.08,"type":"quantitative","scale":{"domain":[-1,1]}},"y":{"field":"yv","type":"quantitative","scale":{"domain":[-0.8,55.2],"nice":false,"zero":false}}}},
{"data":{"name":"sum"},"transform":[{"filter":"datum.p=='E' && datum.g=='HyperJump OFF'"}],"mark":{"type":"rule","color":"#a3152f","strokeWidth":3},"encoding":{"x":{"field":"c","type":"nominal"},"xOffset":{"datum":0.03,"type":"quantitative","scale":{"domain":[-1,1]}},"y":{"field":"lo","type":"quantitative","scale":{"domain":[-0.8,55.2],"nice":false,"zero":false}},"y2":{"field":"hi"}}},
{"data":{"name":"sum"},"transform":[{"filter":"datum.p=='E' && datum.g=='HyperJump OFF'"},{"fold":["lo","hi"],"as":["k","yv"]}],"mark":{"type":"tick","color":"#a3152f","thickness":3,"size":11,"orient":"horizontal","opacity":1},"encoding":{"x":{"field":"c","type":"nominal"},"xOffset":{"datum":0.03,"type":"quantitative","scale":{"domain":[-1,1]}},"y":{"field":"yv","type":"quantitative","scale":{"domain":[-0.8,55.2],"nice":false,"zero":false}}}},
{"data":{"name":"sum"},"transform":[{"filter":"datum.p=='E' && datum.g=='HyperJump ON'"}],"mark":{"type":"line","strokeWidth":2},"encoding":{"x":{"field":"c","type":"nominal"},"xOffset":{"datum":-0.08,"type":"quantitative","scale":{"domain":[-1,1]}},"y":{"field":"m","type":"quantitative","scale":{"domain":[-0.8,55.2],"nice":false,"zero":false}},"stroke":{"field":"g","type":"nominal","title":null,"scale":{"domain":["HyperJump ON","HyperJump OFF"],"range":["#3f72dc","#d9475b"]}},"strokeDash":{"field":"g","type":"nominal","title":null,"scale":{"domain":["HyperJump ON","HyperJump OFF"],"range":[[10,6],[1,0]]}}}},
{"data":{"name":"sum"},"transform":[{"filter":"datum.p=='E' && datum.g=='HyperJump OFF'"}],"mark":{"type":"line","strokeWidth":2},"encoding":{"x":{"field":"c","type":"nominal"},"xOffset":{"datum":0.03,"type":"quantitative","scale":{"domain":[-1,1]}},"y":{"field":"m","type":"quantitative","scale":{"domain":[-0.8,55.2],"nice":false,"zero":false}},"stroke":{"field":"g","type":"nominal","title":null,"scale":{"domain":["HyperJump ON","HyperJump OFF"],"range":["#3f72dc","#d9475b"]}},"strokeDash":{"field":"g","type":"nominal","title":null,"scale":{"domain":["HyperJump ON","HyperJump OFF"],"range":[[10,6],[1,0]]}}}},
{"data":{"values":[{"t":"E"}]},"mark":{"type":"circle","size":700,"color":"#1c1c1c","opacity":1},"encoding":{"x":{"datum":"Controller","type":"nominal"},"xOffset":{"datum":-0.72,"type":"quantitative","scale":{"domain":[-1,1]}},"y":{"datum":53.6,"type":"quantitative","scale":{"domain":[-0.8,55.2],"nice":false,"zero":false}}}},
{"data":{"values":[{"t":"E"}]},"mark":{"type":"text","color":"white","fontWeight":"bold","fontSize":15,"baseline":"middle","align":"center"},"encoding":{"x":{"datum":"Controller","type":"nominal"},"xOffset":{"datum":-0.72,"type":"quantitative","scale":{"domain":[-1,1]}},"y":{"datum":53.6,"type":"quantitative","scale":{"domain":[-0.8,55.2],"nice":false,"zero":false}},"text":{"field":"t"}}}
]}
],
"config":{
"font":"Open Sans",
"view":{"stroke":"#a8a8a8"},
"axis":{"labelFont":"Open Sans","titleFont":"Open Sans","labelColor":"#222","titleColor":"#222","titleFontWeight":"normal","gridColor":"#dcdcdc","domainColor":"#8a8a8a","tickColor":"#8a8a8a"},
"axisX":{"labelFontSize":15,"ticks":false,"labelPadding":4,"labelAngle":0},
"axisY":{"labelFontSize":16,"titleFontSize":16,"tickSize":5,"labelPadding":3,"titlePadding":6},
"legend":{"orient":"none","legendX":381,"legendY":-37,"direction":"horizontal","labelFontSize":21,"labelFont":"Open Sans","labelColor":"#111","symbolType":"stroke","symbolStrokeWidth":3,"symbolSize":600,"columnPadding":6,"labelOffset":2,"labelLimit":300}
}
}
